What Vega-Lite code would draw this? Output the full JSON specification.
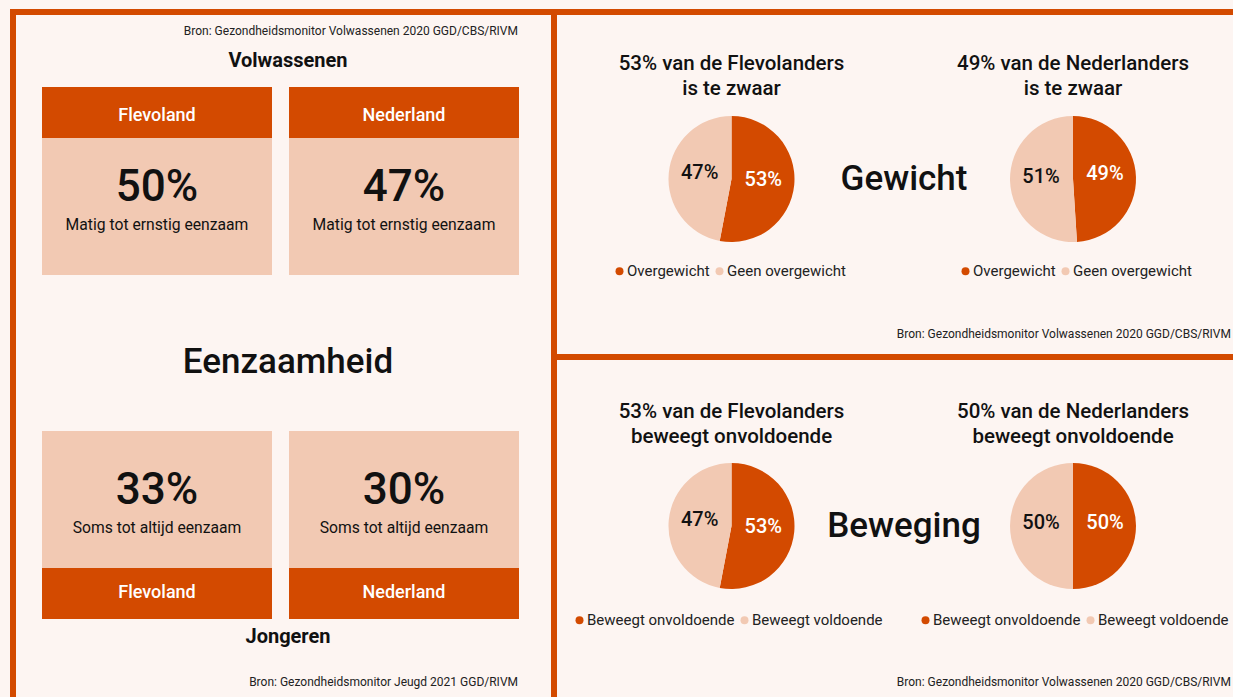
{
  "$schema": "https://vega.github.io/schema/vega-lite/v6.json",
  "background": "#fdf5f2",
  "padding": {"left": 10, "top": 9, "right": 0, "bottom": 0},
  "spacing": 0,
  "bounds": "flush",
  "config": {
    "font": "Roboto",
    "text": {"font": "Roboto", "color": "#111111", "baseline": "middle"},
    "concat": {"spacing": 0},
    "legend": {
      "labelFont": "Roboto", "labelFontSize": 15, "labelColor": "#222222",
      "symbolType": "circle", "symbolSize": 64, "symbolStrokeWidth": 0,
      "labelOffset": 0, "columnPadding": 2, "padding": 0
    }
  },
  "datasets": {
    "eenzaamheid": [
      {"groep": "Volwassenen", "gebied": "Flevoland", "aandeel": 0.50, "omschrijving": "Matig tot ernstig eenzaam"},
      {"groep": "Volwassenen", "gebied": "Nederland", "aandeel": 0.47, "omschrijving": "Matig tot ernstig eenzaam"},
      {"groep": "Jongeren", "gebied": "Flevoland", "aandeel": 0.33, "omschrijving": "Soms tot altijd eenzaam"},
      {"groep": "Jongeren", "gebied": "Nederland", "aandeel": 0.30, "omschrijving": "Soms tot altijd eenzaam"}
    ],
    "groepen": [
      {"groep": "Volwassenen", "bron": "Bron: Gezondheidsmonitor Volwassenen 2020 GGD/CBS/RIVM"},
      {"groep": "Jongeren", "bron": "Bron: Gezondheidsmonitor Jeugd 2021 GGD/RIVM"}
    ],
    "onderwerp": [{"onderwerp": "Eenzaamheid"}],
    "gewicht": [
      {"thema": "Gewicht", "gebied": "Flevoland", "categorie": "Overgewicht", "aandeel": 0.53},
      {"thema": "Gewicht", "gebied": "Flevoland", "categorie": "Geen overgewicht", "aandeel": 0.47},
      {"thema": "Gewicht", "gebied": "Nederland", "categorie": "Overgewicht", "aandeel": 0.49},
      {"thema": "Gewicht", "gebied": "Nederland", "categorie": "Geen overgewicht", "aandeel": 0.51}
    ],
    "gewicht_titels": [
      {"thema": "Gewicht", "gebied": "Flevoland", "titel": "53% van de Flevolanders\nis te zwaar"},
      {"thema": "Gewicht", "gebied": "Nederland", "titel": "49% van de Nederlanders\nis te zwaar"}
    ],
    "gewicht_info": [{"thema": "Gewicht", "bron": "Bron: Gezondheidsmonitor Volwassenen 2020 GGD/CBS/RIVM"}],
    "beweging": [
      {"thema": "Beweging", "gebied": "Flevoland", "categorie": "Beweegt onvoldoende", "aandeel": 0.53},
      {"thema": "Beweging", "gebied": "Flevoland", "categorie": "Beweegt voldoende", "aandeel": 0.47},
      {"thema": "Beweging", "gebied": "Nederland", "categorie": "Beweegt onvoldoende", "aandeel": 0.50},
      {"thema": "Beweging", "gebied": "Nederland", "categorie": "Beweegt voldoende", "aandeel": 0.50}
    ],
    "beweging_titels": [
      {"thema": "Beweging", "gebied": "Flevoland", "titel": "53% van de Flevolanders\nbeweegt onvoldoende"},
      {"thema": "Beweging", "gebied": "Nederland", "titel": "50% van de Nederlanders\nbeweegt onvoldoende"}
    ],
    "beweging_info": [{"thema": "Beweging", "bron": "Bron: Gezondheidsmonitor Volwassenen 2020 GGD/CBS/RIVM"}]
  },
  "hconcat": [
    {
      "width": 541,
      "height": 688,
      "view": {"fill": "#fdf5f2", "stroke": "#d34a00", "strokeWidth": 6},
      "resolve": {"scale": {"y": "independent"}},
      "layer": [
        {
          "data": {"name": "eenzaamheid"},
          "mark": {"type": "rect", "color": "#f2c9b3"},
          "encoding": {
            "x": {"field": "gebied", "type": "nominal", "scale": {"type": "band", "domain": ["Flevoland", "Nederland"], "paddingInner": 0.06883, "paddingOuter": 0.12955, "align": 0.45313}, "axis": null},
            "y": {"field": "groep", "type": "nominal", "scale": {"type": "band", "domain": ["Volwassenen", "Jongeren"], "paddingInner": 0.53242, "paddingOuter": 0.44027, "align": 0.48837}, "axis": null}
          }
        },
        {
          "data": {"name": "eenzaamheid"},
          "mark": {"type": "rect", "color": "#d34a00"},
          "encoding": {
            "x": {"field": "gebied", "type": "nominal", "scale": {"type": "band", "domain": ["Flevoland", "Nederland"], "paddingInner": 0.06883, "paddingOuter": 0.12955, "align": 0.45313}, "axis": null},
            "y": {"field": "groep", "type": "nominal", "scale": {"type": "band", "domain": ["Volwassenen", "Jongeren"], "paddingInner": 0.89397, "paddingOuter": 0.16216, "align": 0.48077}, "axis": null}
          }
        },
        {
          "data": {"name": "eenzaamheid"},
          "mark": {"type": "text", "color": "#ffffff", "fontSize": 18, "fontWeight": 500},
          "encoding": {
            "x": {"field": "gebied", "type": "nominal", "bandPosition": 0.5, "scale": {"type": "band", "domain": ["Flevoland", "Nederland"], "paddingInner": 0.06883, "paddingOuter": 0.12955, "align": 0.45313}, "axis": null},
            "y": {"field": "groep", "type": "nominal", "scale": {"type": "point", "domain": ["Volwassenen", "Jongeren"], "padding": 0.22117, "align": 0.4929}, "axis": null},
            "text": {"field": "gebied"}
          }
        },
        {
          "data": {"name": "eenzaamheid"},
          "mark": {"type": "text", "fontSize": 44, "fontWeight": 500},
          "encoding": {
            "x": {"field": "gebied", "type": "nominal", "bandPosition": 0.5, "scale": {"type": "band", "domain": ["Flevoland", "Nederland"], "paddingInner": 0.06883, "paddingOuter": 0.12955, "align": 0.45313}, "axis": null},
            "y": {"field": "groep", "type": "nominal", "scale": {"type": "point", "domain": ["Volwassenen", "Jongeren"], "padding": 0.63531, "align": 0.4582}, "axis": null},
            "text": {"field": "aandeel", "type": "quantitative", "format": ".0%"}
          }
        },
        {
          "data": {"name": "eenzaamheid"},
          "mark": {"type": "text", "fontSize": 15.7},
          "encoding": {
            "x": {"field": "gebied", "type": "nominal", "bandPosition": 0.5, "scale": {"type": "band", "domain": ["Flevoland", "Nederland"], "paddingInner": 0.06883, "paddingOuter": 0.12955, "align": 0.45313}, "axis": null},
            "y": {"field": "groep", "type": "nominal", "scale": {"type": "point", "domain": ["Volwassenen", "Jongeren"], "padding": 0.63531, "align": 0.55325}, "axis": null},
            "text": {"field": "omschrijving"}
          }
        },
        {
          "data": {"name": "groepen"},
          "mark": {"type": "text", "fontSize": 20, "fontWeight": "bold", "dx": 4.5},
          "encoding": {
            "y": {"field": "groep", "type": "nominal", "scale": {"type": "point", "domain": ["Volwassenen", "Jongeren"], "padding": 0.09722, "align": 0.4375}, "axis": null},
            "text": {"field": "groep"}
          }
        },
        {
          "data": {"name": "groepen"},
          "mark": {"type": "text", "fontSize": 12, "align": "right", "dx": -36, "color": "#222222"},
          "encoding": {
            "x": {"value": "width"},
            "y": {"field": "groep", "type": "nominal", "scale": {"type": "point", "domain": ["Volwassenen", "Jongeren"], "padding": 0.02842, "align": 0.51351}, "axis": null},
            "text": {"field": "bron"}
          }
        },
        {
          "data": {"name": "onderwerp"},
          "mark": {"type": "text", "fontSize": 35, "fontWeight": 500, "dx": 4.5, "dy": 6},
          "encoding": {"text": {"field": "onderwerp"}}
        }
      ]
    },
    {
      "vconcat": [
        {
          "width": 700,
          "height": 345,
          "view": {"fill": "#fdf5f2", "stroke": "#d34a00", "strokeWidth": 6},
          "resolve": {"scale": {"color": "independent"}},
          "layer": [
            {
              "data": {"name": "gewicht"},
              "transform": [{"filter": "datum.gebied === 'Flevoland'"}],
              "mark": {"type": "arc", "outerRadius": 63},
              "encoding": {
                "x": {"field": "gebied", "type": "nominal", "scale": {"type": "point", "domain": ["Flevoland", "Nederland"], "padding": 0.52489, "align": 0.49512}, "axis": null},
                "y": {"field": "thema", "type": "nominal", "scale": {"type": "point", "align": 0.48406}, "axis": null},
                "theta": {"field": "aandeel", "type": "quantitative", "stack": true, "scale": {"domain": [0, 1]}},
                "order": {"field": "categorie", "type": "nominal", "sort": "descending"},
                "color": {"field": "categorie", "type": "nominal", "scale": {"domain": ["Overgewicht", "Geen overgewicht"], "range": ["#d34a00", "#f2c9b3"]}, "legend": {"orient": "none", "legendX": 58, "legendY": 251.5, "direction": "horizontal", "title": null}}
              }
            },
            {
              "data": {"name": "gewicht"},
              "transform": [{"filter": "datum.gebied === 'Nederland'"}],
              "mark": {"type": "arc", "outerRadius": 63},
              "encoding": {
                "x": {"field": "gebied", "type": "nominal", "scale": {"type": "point", "domain": ["Flevoland", "Nederland"], "padding": 0.52489, "align": 0.49512}, "axis": null},
                "y": {"field": "thema", "type": "nominal", "scale": {"type": "point", "align": 0.48406}, "axis": null},
                "theta": {"field": "aandeel", "type": "quantitative", "stack": true, "scale": {"domain": [0, 1]}},
                "order": {"field": "categorie", "type": "nominal", "sort": "descending"},
                "color": {"field": "categorie", "type": "nominal", "scale": {"domain": ["Overgewicht", "Geen overgewicht"], "range": ["#d34a00", "#f2c9b3"]}, "legend": {"orient": "none", "legendX": 404, "legendY": 251.5, "direction": "horizontal", "title": null}}
              }
            },
            {
              "data": {"name": "gewicht"},
              "transform": [{"filter": "datum.gebied === 'Flevoland'"}],
              "mark": {"type": "text", "radius": 32, "fontSize": 20, "fontWeight": 500, "dy": -2.5},
              "encoding": {
                "x": {"field": "gebied", "type": "nominal", "scale": {"type": "point", "domain": ["Flevoland", "Nederland"], "padding": 0.52489, "align": 0.49512}, "axis": null},
                "y": {"field": "thema", "type": "nominal", "scale": {"type": "point", "align": 0.48406}, "axis": null},
                "theta": {"field": "aandeel", "type": "quantitative", "stack": true, "scale": {"domain": [0, 1]}},
                "order": {"field": "categorie", "type": "nominal", "sort": "descending"},
                "text": {"field": "aandeel", "type": "quantitative", "format": ".0%"},
                "color": {"condition": {"test": "datum.categorie === 'Overgewicht'", "value": "#ffffff"}, "value": "#111111"}
              }
            },
            {
              "data": {"name": "gewicht"},
              "transform": [{"filter": "datum.gebied === 'Nederland'"}],
              "mark": {"type": "text", "radius": 32, "fontSize": 20, "fontWeight": 500, "dy": -3.5},
              "encoding": {
                "x": {"field": "gebied", "type": "nominal", "scale": {"type": "point", "domain": ["Flevoland", "Nederland"], "padding": 0.52489, "align": 0.49512}, "axis": null},
                "y": {"field": "thema", "type": "nominal", "scale": {"type": "point", "align": 0.48406}, "axis": null},
                "theta": {"field": "aandeel", "type": "quantitative", "stack": true, "scale": {"domain": [0, 1]}},
                "order": {"field": "categorie", "type": "nominal", "sort": "descending"},
                "text": {"field": "aandeel", "type": "quantitative", "format": ".0%"},
                "color": {"condition": {"test": "datum.categorie === 'Overgewicht'", "value": "#ffffff"}, "value": "#111111"}
              }
            },
            {
              "data": {"name": "gewicht_titels"},
              "mark": {"type": "text", "fontSize": 20.5, "fontWeight": 500, "lineBreak": "\n", "lineHeight": 25, "dy": -115},
              "encoding": {
                "x": {"field": "gebied", "type": "nominal", "scale": {"type": "point", "domain": ["Flevoland", "Nederland"], "padding": 0.52489, "align": 0.49512}, "axis": null},
                "y": {"field": "thema", "type": "nominal", "scale": {"type": "point", "align": 0.48406}, "axis": null},
                "text": {"field": "titel"}
              }
            },
            {
              "data": {"name": "gewicht_info"},
              "mark": {"type": "text", "fontSize": 35, "fontWeight": 500},
              "encoding": {
                "y": {"field": "thema", "type": "nominal", "scale": {"type": "point", "align": 0.48406}, "axis": null},
                "text": {"field": "thema"}
              }
            },
            {
              "data": {"name": "gewicht_info"},
              "mark": {"type": "text", "fontSize": 12, "align": "right", "dx": -23, "dy": 155, "color": "#222222"},
              "encoding": {
                "x": {"value": "width"},
                "y": {"field": "thema", "type": "nominal", "scale": {"type": "point", "align": 0.48406}, "axis": null},
                "text": {"field": "bron"}
              }
            }
          ]
        },
        {
          "width": 700,
          "height": 345,
          "view": {"fill": "#fdf5f2", "stroke": "#d34a00", "strokeWidth": 6},
          "resolve": {"scale": {"color": "independent"}},
          "layer": [
            {
              "data": {"name": "beweging"},
              "transform": [{"filter": "datum.gebied === 'Flevoland'"}],
              "mark": {"type": "arc", "outerRadius": 63},
              "encoding": {
                "x": {"field": "gebied", "type": "nominal", "scale": {"type": "point", "domain": ["Flevoland", "Nederland"], "padding": 0.52489, "align": 0.49512}, "axis": null},
                "y": {"field": "thema", "type": "nominal", "scale": {"type": "point", "align": 0.48986}, "axis": null},
                "theta": {"field": "aandeel", "type": "quantitative", "stack": true, "scale": {"domain": [0, 1]}},
                "order": {"field": "categorie", "type": "nominal", "sort": "ascending"},
                "color": {"field": "categorie", "type": "nominal", "scale": {"domain": ["Beweegt onvoldoende", "Beweegt voldoende"], "range": ["#d34a00", "#f2c9b3"]}, "legend": {"orient": "none", "legendX": 18, "legendY": 255.5, "direction": "horizontal", "title": null}}
              }
            },
            {
              "data": {"name": "beweging"},
              "transform": [{"filter": "datum.gebied === 'Nederland'"}],
              "mark": {"type": "arc", "outerRadius": 63},
              "encoding": {
                "x": {"field": "gebied", "type": "nominal", "scale": {"type": "point", "domain": ["Flevoland", "Nederland"], "padding": 0.52489, "align": 0.49512}, "axis": null},
                "y": {"field": "thema", "type": "nominal", "scale": {"type": "point", "align": 0.48986}, "axis": null},
                "theta": {"field": "aandeel", "type": "quantitative", "stack": true, "scale": {"domain": [0, 1]}},
                "order": {"field": "categorie", "type": "nominal", "sort": "ascending"},
                "color": {"field": "categorie", "type": "nominal", "scale": {"domain": ["Beweegt onvoldoende", "Beweegt voldoende"], "range": ["#d34a00", "#f2c9b3"]}, "legend": {"orient": "none", "legendX": 364, "legendY": 255.5, "direction": "horizontal", "title": null}}
              }
            },
            {
              "data": {"name": "beweging"},
              "transform": [{"filter": "datum.gebied === 'Flevoland'"}],
              "mark": {"type": "text", "radius": 32, "fontSize": 20, "fontWeight": 500, "dy": -2.5},
              "encoding": {
                "x": {"field": "gebied", "type": "nominal", "scale": {"type": "point", "domain": ["Flevoland", "Nederland"], "padding": 0.52489, "align": 0.49512}, "axis": null},
                "y": {"field": "thema", "type": "nominal", "scale": {"type": "point", "align": 0.48986}, "axis": null},
                "theta": {"field": "aandeel", "type": "quantitative", "stack": true, "scale": {"domain": [0, 1]}},
                "order": {"field": "categorie", "type": "nominal", "sort": "ascending"},
                "text": {"field": "aandeel", "type": "quantitative", "format": ".0%"},
                "color": {"condition": {"test": "datum.categorie === 'Beweegt onvoldoende'", "value": "#ffffff"}, "value": "#111111"}
              }
            },
            {
              "data": {"name": "beweging"},
              "transform": [{"filter": "datum.gebied === 'Nederland'"}],
              "mark": {"type": "text", "radius": 32, "fontSize": 20, "fontWeight": 500, "dy": -3.5},
              "encoding": {
                "x": {"field": "gebied", "type": "nominal", "scale": {"type": "point", "domain": ["Flevoland", "Nederland"], "padding": 0.52489, "align": 0.49512}, "axis": null},
                "y": {"field": "thema", "type": "nominal", "scale": {"type": "point", "align": 0.48986}, "axis": null},
                "theta": {"field": "aandeel", "type": "quantitative", "stack": true, "scale": {"domain": [0, 1]}},
                "order": {"field": "categorie", "type": "nominal", "sort": "ascending"},
                "text": {"field": "aandeel", "type": "quantitative", "format": ".0%"},
                "color": {"condition": {"test": "datum.categorie === 'Beweegt onvoldoende'", "value": "#ffffff"}, "value": "#111111"}
              }
            },
            {
              "data": {"name": "beweging_titels"},
              "mark": {"type": "text", "fontSize": 20.5, "fontWeight": 500, "lineBreak": "\n", "lineHeight": 25, "dy": -114},
              "encoding": {
                "x": {"field": "gebied", "type": "nominal", "scale": {"type": "point", "domain": ["Flevoland", "Nederland"], "padding": 0.52489, "align": 0.49512}, "axis": null},
                "y": {"field": "thema", "type": "nominal", "scale": {"type": "point", "align": 0.48986}, "axis": null},
                "text": {"field": "titel"}
              }
            },
            {
              "data": {"name": "beweging_info"},
              "mark": {"type": "text", "fontSize": 35, "fontWeight": 500},
              "encoding": {
                "y": {"field": "thema", "type": "nominal", "scale": {"type": "point", "align": 0.48986}, "axis": null},
                "text": {"field": "thema"}
              }
            },
            {
              "data": {"name": "beweging_info"},
              "mark": {"type": "text", "fontSize": 12, "align": "right", "dx": -23, "dy": 156, "color": "#222222"},
              "encoding": {
                "x": {"value": "width"},
                "y": {"field": "thema", "type": "nominal", "scale": {"type": "point", "align": 0.48986}, "axis": null},
                "text": {"field": "bron"}
              }
            }
          ]
        }
      ],
      "spacing": 0,
      "bounds": "flush"
    }
  ]
}
